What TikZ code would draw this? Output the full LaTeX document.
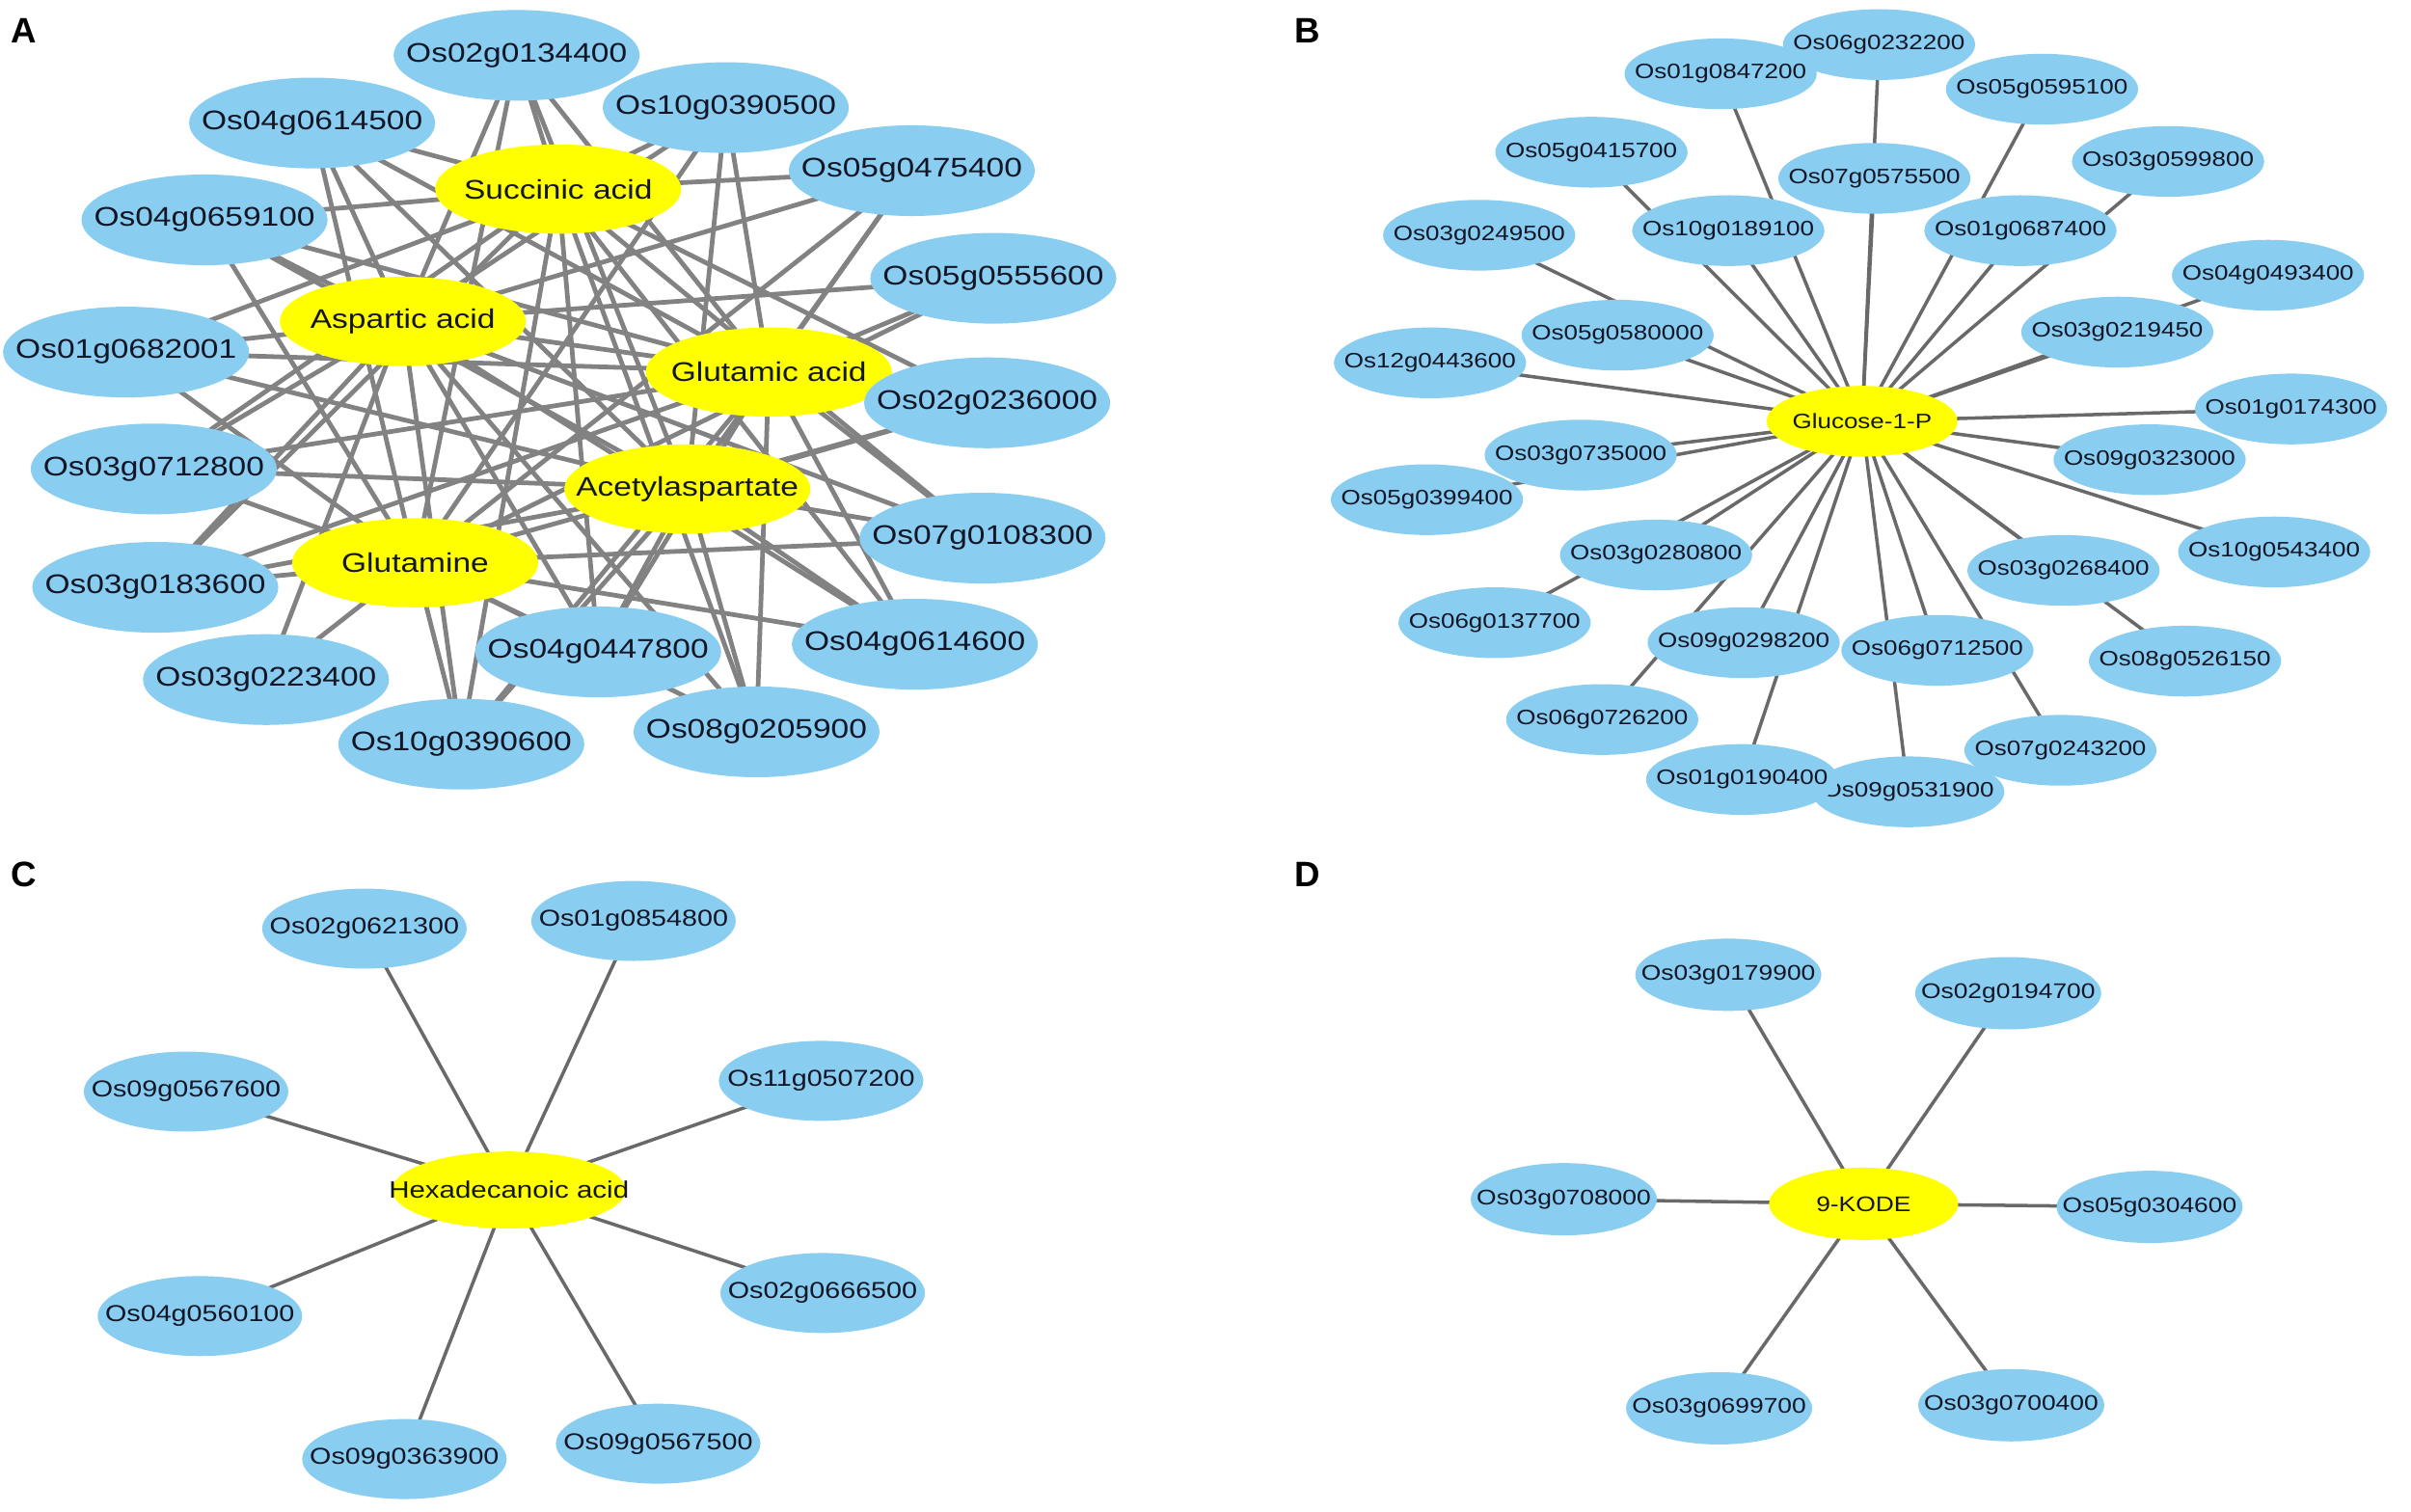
\documentclass[tikz,border=0pt]{standalone}
\usepackage{fontspec}
\setmainfont{Liberation Sans}
\newfontfamily\lab[FakeStretch=1.2]{Liberation Sans}
\usetikzlibrary{shapes.geometric}
\pgfdeclarelayer{back}
\pgfdeclarelayer{bg}
\pgfsetlayers{back,bg,main}
\definecolor{nodeblue}{RGB}{137,206,240}
\definecolor{nodeyellow}{RGB}{255,255,0}
\definecolor{edgeA}{RGB}{130,130,130}
\definecolor{edgeS}{RGB}{105,105,105}
\definecolor{txt}{RGB}{18,22,38}
\newcommand\zb[1]{\makebox[0pt]{#1}}
\begin{document}
\begin{tikzpicture}[x=1pt,y=-1pt,
  el/.style={ellipse, inner sep=0pt, text=txt},
  gA/.style={el, fill=nodeblue, minimum width=160pt, minimum height=59pt, font=\lab\fontsize{17.5}{20}\selectfont},
  mA/.style={el, fill=nodeyellow, minimum width=160pt, minimum height=58pt, font=\lab\fontsize{17.5}{20}\selectfont},
  gB/.style={el, fill=nodeblue, minimum width=125pt, minimum height=46pt, font=\lab\fontsize{13.6}{16}\selectfont},
  mB/.style={el, fill=nodeyellow, minimum width=124pt, minimum height=46pt, font=\lab\fontsize{13.6}{16}\selectfont},
  gC/.style={el, fill=nodeblue, minimum width=133pt, minimum height=52pt, font=\lab\fontsize{15}{18}\selectfont},
  mC/.style={el, fill=nodeyellow, minimum width=152pt, minimum height=50pt, font=\lab\fontsize{15.4}{18}\selectfont},
  gD/.style={el, fill=nodeblue, minimum width=121pt, minimum height=47pt, font=\lab\fontsize{13.8}{16}\selectfont},
  mD/.style={el, fill=nodeyellow, minimum width=123pt, minimum height=47pt, font=\lab\fontsize{13.8}{16}\selectfont},
  linkA/.style={draw=edgeA, line width=3pt},
  linkS/.style={draw=edgeS, line width=2.2pt},
  panel/.style={inner sep=0pt, anchor=base west, font=\bfseries\fontsize{23}{26}\selectfont}
]
\useasboundingbox (0,0) rectangle (1568,983);
\begin{pgfonlayer}{back}
\fill[white] (0,0) rectangle (1568,983);
\end{pgfonlayer}

% ---------------- Panel A ----------------
\node[panel] (lA) at (7,28) {A};
\node[mA] (SA) at (363,123) {\zb{Succinic acid}};
\node[mA] (AA) at (262,209) {\zb{Aspartic acid}};
\node[mA] (GA) at (500,242) {\zb{Glutamic acid}};
\node[mA] (AC) at (447,318) {\zb{Acetylaspartate}};
\node[mA] (GN) at (270,366) {\zb{Glutamine}};
\foreach \n/\x/\y in {Os02g0134400/336/36, Os04g0614500/203/80, Os10g0390500/472/70,
  Os05g0475400/593/111, Os04g0659100/133/143, Os05g0555600/646/181,
  Os01g0682001/82/229, Os02g0236000/642/262, Os03g0712800/100/305,
  Os07g0108300/639/350, Os03g0183600/101/382, Os03g0223400/173/442,
  Os04g0614600/595/419, Os04g0447800/389/424, Os10g0390600/300/484,
  Os08g0205900/492/476}
  {\node[gA] (\n) at (\x,\y) {\zb{\n}};}
\begin{pgfonlayer}{bg}
\foreach \g/\ms in {Os02g0134400/{SA,AA,GA,AC,GN}, Os04g0614500/{SA,AA,GA,AC,GN},
  Os10g0390500/{SA,AA,GA,AC,GN}, Os05g0475400/{SA,AA,GA,AC,GN},
  Os04g0659100/{SA,AA,GA,AC,GN}, Os05g0555600/{AA,GA,GN},
  Os01g0682001/{SA,AA,GA,AC,GN}, Os02g0236000/{SA,AA,GA,AC,GN},
  Os03g0712800/{SA,AA,GA,AC,GN}, Os07g0108300/{SA,AA,GA,AC,GN},
  Os03g0183600/{SA,AA,GA,AC,GN}, Os03g0223400/{AA,GN},
  Os04g0614600/{SA,AA,GA,AC,GN}, Os04g0447800/{SA,AA,GA,AC,GN},
  Os10g0390600/{SA,AA,GA,AC,GN}, Os08g0205900/{SA,AA,GA,AC,GN}}
  {\foreach \m in \ms {\draw[linkA] (\g.center) -- (\m.center);}}
\end{pgfonlayer}

% ---------------- Panel B ----------------
\node[panel] (lB) at (842,28) {B};
\node[mB] (G1P) at (1211,274) {\zb{Glucose-1-P}};
\foreach \n/\x/\y in {Os06g0232200/1222/29, Os01g0847200/1119/48, Os05g0595100/1328/58,
  Os05g0415700/1035/99, Os07g0575500/1219/116, Os03g0599800/1410/105,
  Os10g0189100/1124/150, Os01g0687400/1314/150, Os03g0249500/962/153,
  Os04g0493400/1475/179, Os05g0580000/1052/218, Os03g0219450/1377/216,
  Os12g0443600/930/236, Os01g0174300/1490/266, Os03g0735000/1028/296,
  Os09g0323000/1398/299, Os05g0399400/928/325, Os10g0543400/1479/359,
  Os03g0280800/1077/361, Os03g0268400/1342/371, Os06g0137700/972/405,
  Os09g0298200/1134/418, Os06g0712500/1260/423, Os08g0526150/1421/430,
  Os06g0726200/1042/468, Os07g0243200/1340/488, Os09g0531900/1241/515,
  Os01g0190400/1133/507}
  {\node[gB] (\n) at (\x,\y) {\zb{\n}};
   \begin{pgfonlayer}{bg}\draw[linkS] (G1P.center) -- (\n.center);\end{pgfonlayer}}

% ---------------- Panel C ----------------
\node[panel] (lC) at (7,577) {C};
\node[mC] (HDA) at (331,774) {\zb{Hexadecanoic acid}};
\foreach \n/\x/\y in {Os02g0621300/237/604, Os01g0854800/412/599, Os09g0567600/121/710,
  Os11g0507200/534/703, Os04g0560100/130/856, Os02g0666500/535/841,
  Os09g0363900/263/949, Os09g0567500/428/939}
  {\node[gC] (\n) at (\x,\y) {\zb{\n}};
   \begin{pgfonlayer}{bg}\draw[linkS] (HDA.center) -- (\n.center);\end{pgfonlayer}}

% ---------------- Panel D ----------------
\node[panel] (lD) at (842,577) {D};
\node[mD] (KODE) at (1212,783) {\zb{9-KODE}};
\foreach \n/\x/\y in {Os03g0179900/1124/634, Os02g0194700/1306/646, Os03g0708000/1017/780,
  Os05g0304600/1398/785, Os03g0699700/1118/916, Os03g0700400/1308/914}
  {\node[gD] (\n) at (\x,\y) {\zb{\n}};
   \begin{pgfonlayer}{bg}\draw[linkS] (KODE.center) -- (\n.center);\end{pgfonlayer}}
\end{tikzpicture}
\end{document}
